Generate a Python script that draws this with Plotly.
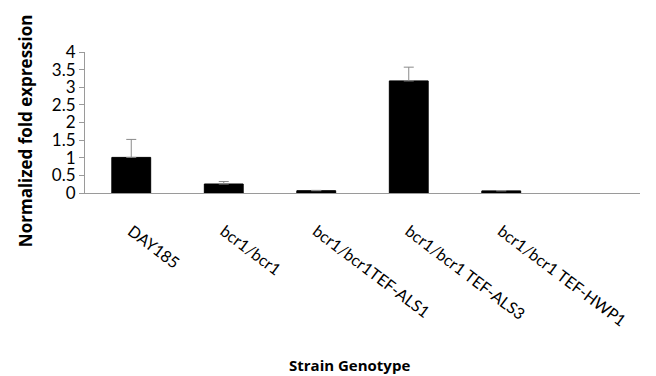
import plotly.graph_objects as go

categories = ["DAY185", "bcr1/bcr1", "bcr1/bcr1TEF-ALS1", "bcr1/bcr1 TEF-ALS3", "bcr1/bcr1 TEF-HWP1"]
values = [1.01, 0.255, 0.065, 3.18, 0.06]
errors = [0.51, 0.07, 0.01, 0.39, 0.01]
y_ticks = [0, 0.5, 1, 1.5, 2, 2.5, 3, 3.5, 4]
y_tick_labels = ["0", "0.5", "1", "1.5", "2", "2.5", "3", "3.5", "4"]

fig = go.Figure()
fig.add_trace(go.Bar(
    x=list(range(len(categories))),
    y=values,
    width=0.42,
    marker=dict(color="black", line=dict(color="black", width=1)),
    error_y=dict(type="data", array=errors, arrayminus=[0] * len(errors),
                 symmetric=False, color="#8a8a8a", thickness=1, width=5),
    showlegend=False,
))

fig.update_layout(
    width=648, height=368,
    margin=dict(l=77, r=16, t=44, b=183),
    paper_bgcolor="white", plot_bgcolor="white",
    font=dict(family="Lato, Open Sans, sans-serif", color="black"),
)
fig.update_xaxes(
    range=[-0.5, 5.5],
    tickmode="array",
    tickvals=list(range(len(categories))),
    ticktext=categories,
    tickangle=37,
    tickfont=dict(size=16, family="Lato, sans-serif"),
    ticklabelstandoff=22,
    showline=True, linecolor="#9a9a9a", linewidth=1,
    showgrid=False, zeroline=False, ticks="",
    automargin=False,
)
fig.update_yaxes(
    range=[0, 4],
    tickmode="array",
    tickvals=y_ticks,
    ticktext=y_tick_labels,
    tickfont=dict(size=17, family="Lato, sans-serif"),
    showline=True, linecolor="#9a9a9a", linewidth=1,
    ticks="outside", ticklen=5, tickcolor="#9a9a9a",
    showgrid=False, zeroline=False,
    automargin=False,
)
fig.add_annotation(
    text="<b>Normalized fold expression</b>",
    xref="paper", yref="paper",
    x=-0.106, y=0.44, xanchor="center", yanchor="middle",
    textangle=-90, showarrow=False,
    font=dict(size=17, family="Open Sans, sans-serif", color="black"),
)
fig.add_annotation(
    text="<b>Strain Genotype</b>",
    xref="paper", yref="paper",
    x=0.477, y=-1.22, xanchor="center", yanchor="middle",
    showarrow=False,
    font=dict(size=15, family="Open Sans, sans-serif", color="black"),
)

fig.write_html("out.html")
